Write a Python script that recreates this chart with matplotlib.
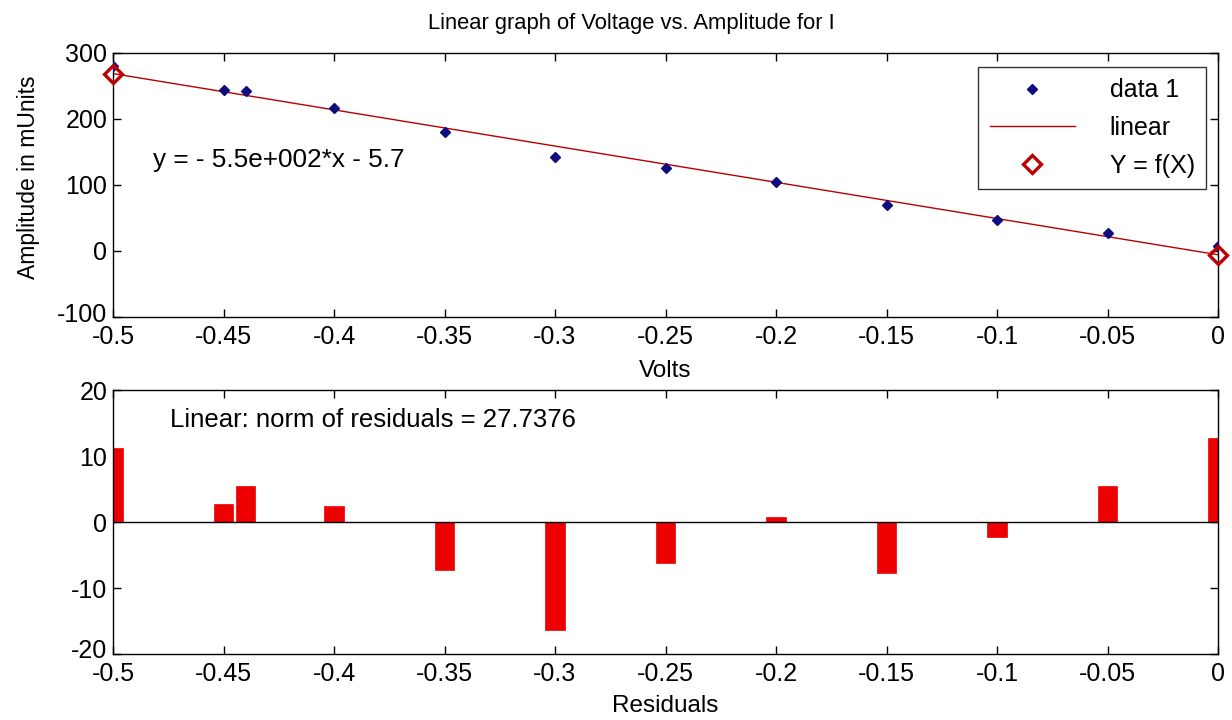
import matplotlib
matplotlib.use("Agg")
import matplotlib.pyplot as plt
import matplotlib.transforms as mtransforms
import numpy as np

plt.rcParams['font.family'] = ['Liberation Sans', 'DejaVu Sans']
plt.rcParams['axes.unicode_minus'] = False

volts = [-0.5, -0.45, -0.44, -0.4, -0.35, -0.3, -0.25, -0.2, -0.15, -0.1, -0.05, 0.0]
amplitude = [280.5, 244.6, 241.8, 216.7, 179.6, 143.0, 125.6, 105.0, 69.0, 47.1, 27.3, 7.1]
residuals = [11.2, 2.8, 5.5, 2.4, -7.2, -16.3, -6.2, 0.7, -7.8, -2.2, 5.5, 12.8]
fit_slope = -549.0
fit_intercept = -5.7
fx_points = [-0.5, 0.0]

xticks = [-0.5, -0.45, -0.4, -0.35, -0.3, -0.25, -0.2, -0.15, -0.1, -0.05, 0]
xticklabels = ['-0.5', '-0.45', '-0.4', '-0.35', '-0.3', '-0.25', '-0.2', '-0.15', '-0.1', '-0.05', '0']
yticks_top = [-100, 0, 100, 200, 300]
yticks_bot = [-20, -10, 0, 10, 20]

W, H = 1232, 720
fig = plt.figure(figsize=(W / 100, H / 100), dpi=100)

def px_axes(l, t, r, b):
    return fig.add_axes([l / W, 1 - b / H, (r - l) / W, (b - t) / H])

def fx_(x):
    return x / W

def fy_(y):
    return 1 - y / H

ax1 = px_axes(113, 53, 1218, 317)
ax2 = px_axes(113, 390, 1218, 654)

fs = 18
for ax in (ax1, ax2):
    ax.set_xlim(-0.5, 0)
    ax.set_xticks(xticks)
    ax.set_xticklabels(xticklabels)
    ax.tick_params(direction='in', top=True, right=True, length=6, width=1,
                   labelsize=fs)
    ax.tick_params(axis='x', pad=5.5)
    ax.tick_params(axis='y', pad=4)
    for s in ax.spines.values():
        s.set_linewidth(1)

# Top plot
ax1.set_ylim(-100, 300)
ax1.set_yticks(yticks_top)
line_x = np.array([-0.5, 0.0])
ax1.plot(line_x, fit_slope * line_x + fit_intercept, color=(0.72, 0, 0), lw=1,
         label='linear', zorder=2)
ax1.plot(volts, amplitude, linestyle='none', marker='D', markersize=5,
         color=(0.05, 0.05, 0.5), label='data 1', zorder=3)
fx = np.array(fx_points)
ax1.plot(fx, fit_slope * fx + fit_intercept, linestyle='none', marker='D',
         markersize=9, markerfacecolor='none', markeredgecolor=(0.75, 0, 0),
         markeredgewidth=2.4, label='Y = f(X)', zorder=4, clip_on=False)
fig.text(fx_(631), fy_(23), 'Linear graph of Voltage vs. Amplitude for I',
         fontsize=15.8, ha='center', va='center')
fig.text(fx_(665), fy_(371), 'Volts', fontsize=17.5, ha='center', va='center')
fig.text(fx_(29), fy_(177), 'Amplitude in mUnits', fontsize=16.5, ha='center',
         va='center', rotation=90)
ax1.text(-0.482, 138, 'y = - 5.5e+002*x - 5.7', fontsize=18.8, va='center', ha='left')
handles, labels = ax1.get_legend_handles_labels()
order = [1, 0, 2]
leg = ax1.legend([handles[i] for i in order], [labels[i] for i in order],
                 loc='upper right', bbox_to_anchor=((1206 - 113) / 1105, (317 - 67) / 264),
                 fontsize=18, frameon=True, fancybox=False, edgecolor='black',
                 handlelength=3.4, borderpad=0.45, labelspacing=0.55,
                 handletextpad=1.4, borderaxespad=0)
leg.get_frame().set_linewidth(1)

# Bottom plot
ax2.set_ylim(-20, 20)
ax2.set_yticks(yticks_bot)
ax2.bar(volts, residuals, width=0.0088, color=(0.93, 0, 0), edgecolor=(0.93, 0, 0),
        linewidth=0.5, zorder=2)
ax2.axhline(0, color='black', lw=1, zorder=3)
ax2.text(-0.474, 15.5, 'Linear: norm of residuals = 27.7376', fontsize=18.5,
         va='center', ha='left')
fig.text(fx_(665), fy_(706), 'Residuals', fontsize=17.5, ha='center', va='center')

# lift the lowest y tick label slightly so it does not collide with the first x tick label
lift = mtransforms.ScaledTranslation(0, 5 / 100, fig.dpi_scale_trans)
for ax in (ax1, ax2):
    lbl = ax.get_yticklabels()[0]
    lbl.set_transform(lbl.get_transform() + lift)

fig.savefig('out.png', dpi=100)
